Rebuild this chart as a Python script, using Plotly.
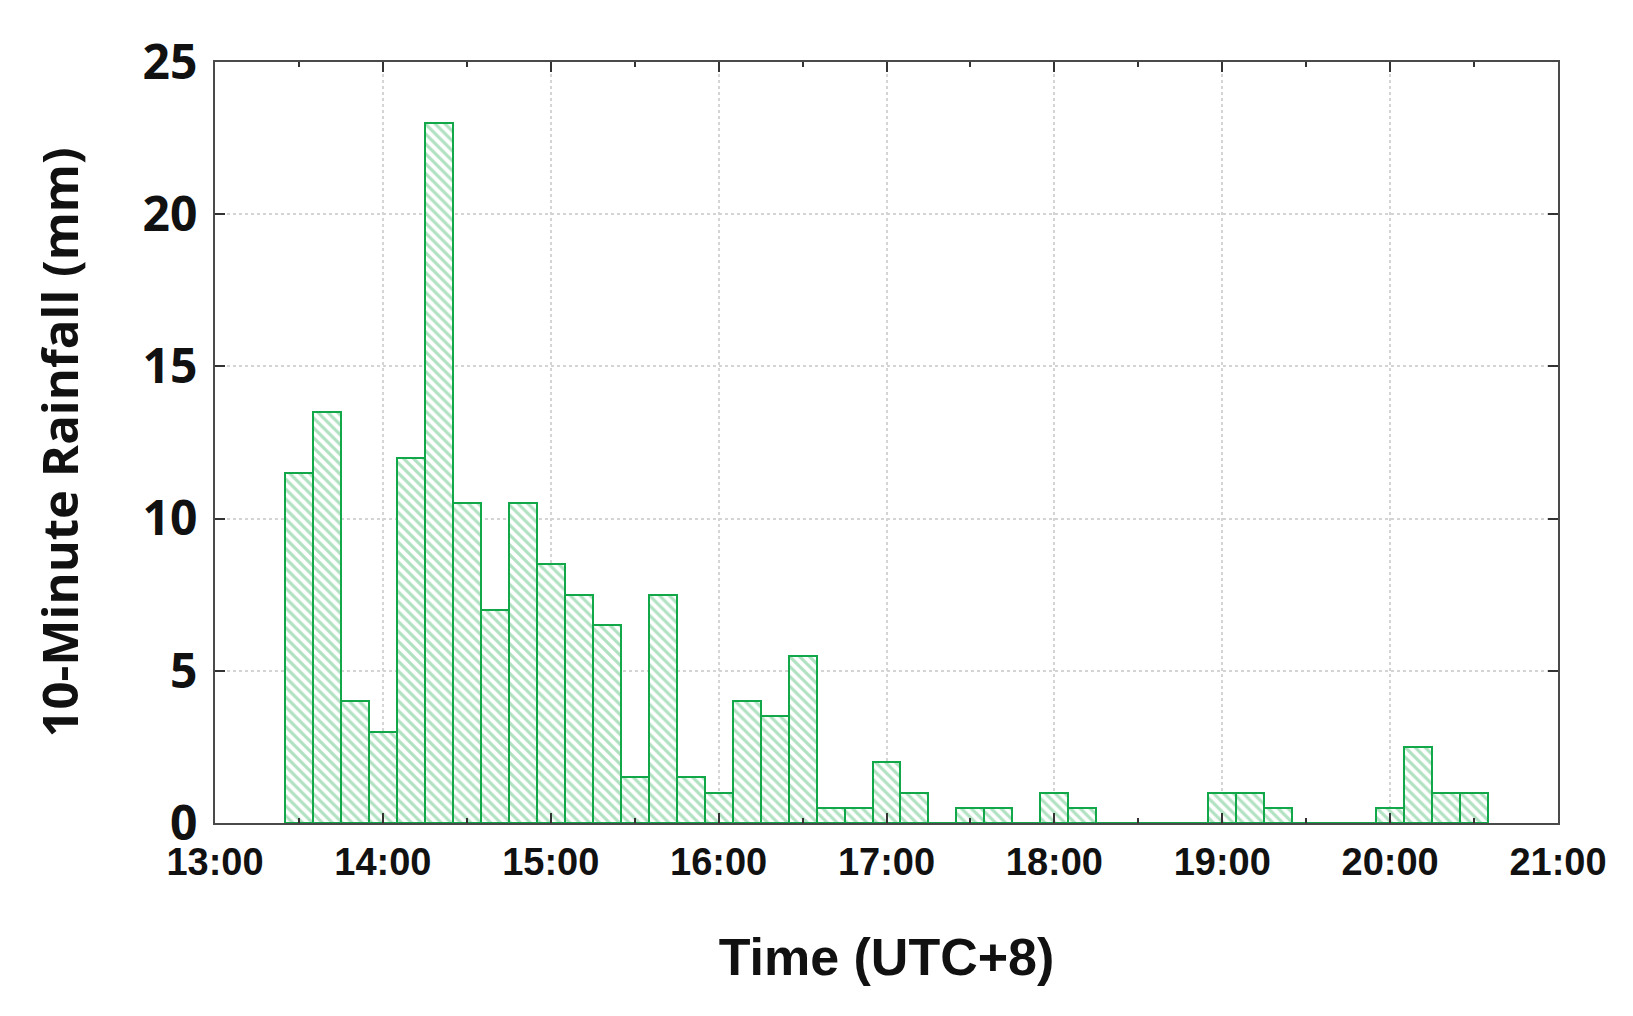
import plotly.graph_objects as go

# 10-minute rainfall, bars centred on each 10-min mark
times = ["13:30", "13:40", "13:50", "14:00", "14:10", "14:20", "14:30", "14:40", "14:50",
         "15:00", "15:10", "15:20", "15:30", "15:40", "15:50", "16:00", "16:10", "16:20",
         "16:30", "16:40", "16:50", "17:00", "17:10", "17:20", "17:30", "17:40", "17:50",
         "18:00", "18:10", "18:20", "18:30", "18:40", "18:50", "19:00", "19:10", "19:20",
         "19:30", "19:40", "19:50", "20:00", "20:10", "20:20", "20:30"]
rainfall = [11.5, 13.5, 4, 3, 12, 23, 10.5, 7, 10.5,
            8.5, 7.5, 6.5, 1.5, 7.5, 1.5, 1, 4, 3.5,
            5.5, 0.5, 0.5, 2, 1, 0, 0.5, 0.5, 0,
            1, 0.5, 0, 0, 0, 0, 1, 1, 0.5,
            0, 0, 0, 0.5, 2.5, 1, 1]
hour_ticks = ["13:00", "14:00", "15:00", "16:00", "17:00", "18:00", "19:00", "20:00", "21:00"]
y_ticks = [0, 5, 10, 15, 20, 25]

day = "2021-07-20 "
x = [day + t for t in times]

fig = go.Figure()
fig.add_trace(go.Bar(
    x=x, y=rainfall, width=600000,
    marker=dict(
        color="white",
        line=dict(color="#12a84a", width=2),
        pattern=dict(shape="\\", fgcolor="#62c483", bgcolor="white", size=7, solidity=0.45),
    ),
))

axis_line = dict(showline=True, linecolor="#4a4a4a", linewidth=2, mirror="allticks",
                 ticks="inside", tickcolor="#333", zeroline=False, automargin=False,
                 showgrid=True, gridcolor="#d4d4d4", griddash="dot", gridwidth=1.5)

# page body adds ~8px offset, margins compensate for it
fig.update_layout(
    width=1633, height=1016,
    margin=dict(l=207, r=83, t=54, b=201),
    plot_bgcolor="white", paper_bgcolor="white",
    showlegend=False,
    bargap=0,
    xaxis=dict(
        type="date",
        range=[day + "13:00", day + "21:00"],
        tickvals=[day + t for t in hour_ticks], ticktext=hour_ticks,
        ticklen=10, tickwidth=2,
        minor=dict(dtick=1800000, ticks="inside", ticklen=5, tickcolor="#333", showgrid=False),
        tickfont=dict(family="Liberation Sans, Arial", size=38, color="#111", weight="bold"),
        ticklabelstandoff=4,
        title=dict(text="Time (UTC+8)",
                   font=dict(family="Liberation Sans, Arial", size=52, color="#111", weight="bold"),
                   standoff=57),
        **axis_line,
    ),
    yaxis=dict(
        range=[0, 25], tickvals=y_ticks,
        ticklen=10, tickwidth=2,
        tickfont=dict(family="Open Sans", size=48, color="#111", weight="bold"),
        ticklabelstandoff=6,
        title=dict(text="10-Minute Rainfall (mm)",
                   font=dict(family="Open Sans", size=49, color="#111", weight="bold"),
                   standoff=48),
        **axis_line,
    ),
)

fig.write_html("out.html")
